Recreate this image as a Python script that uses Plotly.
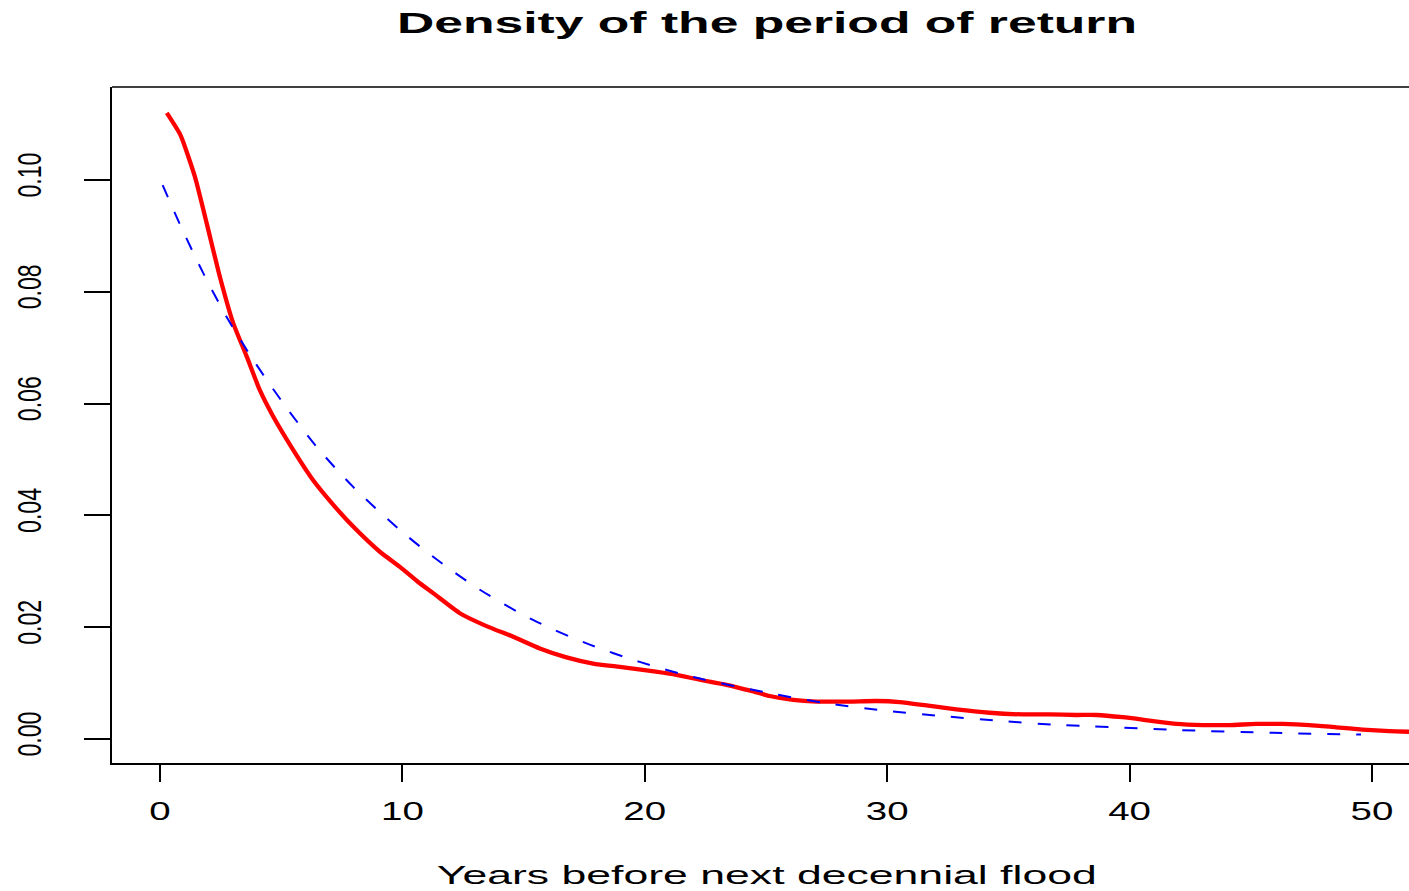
import plotly.graph_objects as go

# ---------------- data ----------------
red_x = [0.28, 0.85, 1.44, 1.93, 2.47, 3.02, 3.58, 4.12, 4.67, 5.50, 6.32, 7.15,
         7.97, 9.07, 9.90, 10.65, 11.27, 12.37, 13.47, 14.57, 15.67, 16.77, 17.87,
         18.97, 20.07, 21.17, 22.27, 23.37, 24.40, 25.15, 26.12, 27.08, 28.45,
         29.55, 30.52, 31.62, 32.85, 34.23, 35.60, 36.70, 37.80, 38.63, 39.72,
         40.82, 41.93, 43.03, 44.12, 45.22, 46.32, 47.42, 48.52, 49.62, 50.72, 51.53]
red_y = [0.1120, 0.1080, 0.1006, 0.0922, 0.0827, 0.0744, 0.0684, 0.0624, 0.0577,
         0.0517, 0.0463, 0.0419, 0.0380, 0.0335, 0.0308, 0.0281, 0.0261, 0.0225,
         0.0202, 0.0183, 0.0162, 0.0146, 0.0135, 0.0129, 0.0123, 0.0116, 0.0106,
         0.0097, 0.0086, 0.0077, 0.0070, 0.0067, 0.0067, 0.0068, 0.0066, 0.0060,
         0.0053, 0.0047, 0.0044, 0.0044, 0.0043, 0.0043, 0.0039, 0.0033, 0.0027,
         0.0025, 0.0025, 0.0027, 0.0027, 0.0025, 0.0021, 0.0017, 0.0014, 0.0013]

blue_x = [0.11, 0.83, 1.79, 2.75, 3.85, 5.08, 6.46, 7.97, 9.90, 11.27, 13.20,
          15.39, 17.60, 19.79, 21.99, 25.15, 27.35, 29.83, 32.30, 34.78, 37.11,
          38.35, 42.06, 45.91, 49.55]
blue_y = [0.0991, 0.0920, 0.0833, 0.0755, 0.0678, 0.0601, 0.0523, 0.0451, 0.0374,
          0.0326, 0.0267, 0.0213, 0.0171, 0.0138, 0.0111, 0.0082, 0.0065, 0.0051,
          0.0041, 0.0032, 0.0025, 0.0023, 0.0016, 0.0011, 0.0008]

x_tick_vals = [0, 10, 20, 30, 40, 50]
x_tick_text = ["0", "10", "20", "30", "40", "50"]
y_tick_vals = [0.00, 0.02, 0.04, 0.06, 0.08, 0.10]
y_tick_text = ["0.00", "0.02", "0.04", "0.06", "0.08", "0.10"]

title_text = "Density of the period of return"
xlabel_text = "Years before next decennial flood"

FONT = "Liberation Sans, Arial, Helvetica, sans-serif"

# ---------------- figure ----------------
fig = go.Figure()
fig.add_trace(go.Scatter(
    x=red_x, y=red_y, mode="lines",
    line=dict(color="#FF0000", width=4.3, shape="spline", smoothing=0.5),
    hoverinfo="skip", showlegend=False))
fig.add_trace(go.Scatter(
    x=blue_x, y=blue_y, mode="lines",
    line=dict(color="#0000FF", width=2, dash="13px,16px", shape="spline", smoothing=0.8),
    hoverinfo="skip", showlegend=False))

fig.update_layout(
    width=1409, height=891,
    margin=dict(l=112, r=0, t=87, b=128, pad=0),
    paper_bgcolor="white", plot_bgcolor="white",
    showlegend=False,
    title=dict(text=title_text, x=767 / 1409, xref="container", xanchor="center",
               y=1 - 23 / 891, yref="container", yanchor="middle",
               font=dict(family=FONT, size=29, color="black", weight="bold")),
    xaxis=dict(range=[-1.98, 51.53], tickmode="array", tickvals=x_tick_vals,
               ticktext=x_tick_text, ticks="outside", ticklen=17, tickwidth=1.5,
               tickcolor="black", showline=True, linecolor="black", linewidth=1.5,
               showgrid=False, zeroline=False, ticklabelstandoff=8,
               tickfont=dict(family=FONT, size=25.5, color="black")),
    yaxis=dict(range=[-0.00429, 0.11664], tickmode="array", tickvals=y_tick_vals,
               ticktext=y_tick_text, tickangle=-90, ticks="outside", ticklen=26,
               tickwidth=1.5, tickcolor="black", showline=True, linecolor="black",
               linewidth=1.5, showgrid=False, zeroline=False, ticklabelstandoff=30,
               tickfont=dict(family=FONT, size=33, color="black")),
    shapes=[dict(type="line", xref="paper", yref="paper", x0=0, x1=1, y0=1, y1=1,
                 line=dict(color="black", width=1.5))],
    annotations=[dict(text=xlabel_text, xref="paper", yref="paper",
                      x=(767 - 112) / 1297, y=0, yshift=-112,
                      xanchor="center", yanchor="middle", showarrow=False,
                      font=dict(family=FONT, size=25.5, color="black"))],
)

post = r"""
document.body.style.margin = '0';
document.body.style.padding = '0';
document.body.style.overflow = 'hidden';
var gd = document.getElementById('{plot_id}');
function fit(el, target){
  var w = el.getComputedTextLength();
  if (w > 0) {
    el.setAttribute('textLength', target.toFixed(1));
    el.setAttribute('lengthAdjust', 'spacingAndGlyphs');
  }
}
var t = gd.querySelector('text.gtitle');
if (t) fit(t, 740);
gd.querySelectorAll('g.xtick text').forEach(function(el){ fit(el, el.getComputedTextLength() * 1.51); });
gd.querySelectorAll('g.annotation text').forEach(function(el){ fit(el, 660); });
gd.querySelectorAll('g.ytick text').forEach(function(el){ fit(el, 45); });
"""

fig.write_html("out.html", config={"displayModeBar": False, "responsive": False},
               post_script=post)
